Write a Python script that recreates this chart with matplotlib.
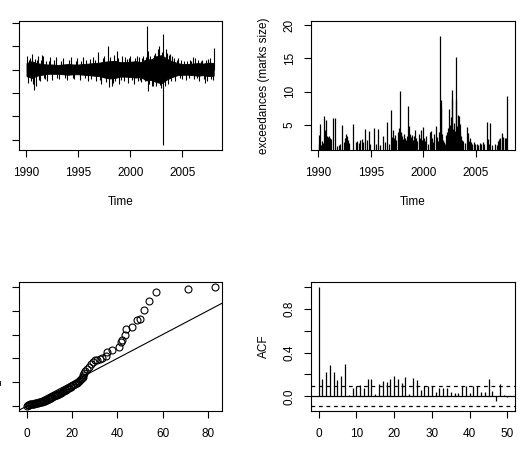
import numpy as np
import matplotlib
matplotlib.use("Agg")
import matplotlib.pyplot as plt

plt.rcParams['font.family'] = ['Liberation Sans', 'DejaVu Sans']
plt.rcParams['font.size'] = 8.5

# ---- daily series (top left): core band every half year + visible spikes
band_t = np.arange(1990.0, 2008.01, 0.5)
band_hi = [0.014, 0.018, 0.014, 0.012, 0.011, 0.011, 0.010, 0.011, 0.012, 0.011,
           0.011, 0.012, 0.013, 0.014, 0.015, 0.017, 0.018, 0.019, 0.016, 0.016,
           0.017, 0.018, 0.016, 0.022, 0.022, 0.029, 0.031, 0.023, 0.018, 0.014,
           0.012, 0.012, 0.013, 0.014, 0.013, 0.015, 0.014]
band_lo = [-0.014, -0.018, -0.013, -0.011, -0.009, -0.009, -0.009, -0.010, -0.011, -0.010,
           -0.010, -0.011, -0.012, -0.013, -0.014, -0.017, -0.019, -0.018, -0.015, -0.015,
           -0.016, -0.017, -0.016, -0.023, -0.022, -0.027, -0.029, -0.021, -0.016, -0.012,
           -0.011, -0.011, -0.012, -0.013, -0.012, -0.014, -0.013]
spike_t = [1990.05, 1990.10, 1990.20, 1990.30, 1990.40, 1990.50, 1990.60, 1990.70, 1990.80,
           1990.90, 1991.00, 1991.10, 1991.20, 1991.30, 1991.40, 1991.50, 1991.60, 1991.70,
           1991.80, 1991.90, 1992.00, 1992.15, 1992.30, 1992.50, 1992.65, 1992.80, 1992.95,
           1993.10, 1993.30, 1993.50, 1993.70, 1993.90, 1994.10, 1994.30, 1994.45, 1994.60,
           1994.75, 1994.90, 1995.10, 1995.25, 1995.40, 1995.60, 1995.75, 1995.90, 1996.10,
           1996.25, 1996.40, 1996.55, 1996.70, 1996.90, 1997.05, 1997.20, 1997.35, 1997.50,
           1997.65, 1997.80, 1997.90, 1998.05, 1998.20, 1998.30, 1998.40, 1998.55, 1998.70,
           1998.80, 1998.90, 1999.05, 1999.20, 1999.35, 1999.50, 1999.65, 1999.80, 1999.90,
           2000.00, 2000.15, 2000.30, 2000.45, 2000.60, 2000.70, 2000.80, 2000.90, 2001.00,
           2001.10, 2001.20, 2001.35, 2001.45, 2001.57, 2001.65, 2001.70, 2001.80, 2001.90,
           2002.05, 2002.20, 2002.30, 2002.40, 2002.50, 2002.60, 2002.70, 2002.80, 2002.90,
           2003.05, 2003.16, 2003.17, 2003.30, 2003.40, 2003.50, 2003.60, 2003.70, 2003.80,
           2003.90, 2004.00, 2004.15, 2004.30, 2004.45, 2004.60, 2004.75, 2004.90, 2005.00,
           2005.15, 2005.30, 2005.45, 2005.60, 2005.70, 2005.85, 2006.00, 2006.10, 2006.20,
           2006.35, 2006.50, 2006.60, 2006.75, 2006.90, 2007.05, 2007.20, 2007.30, 2007.40,
           2007.50, 2007.60, 2007.75, 2007.90, 2008.00]
spike_v = [0.030, -0.028, 0.020, 0.024, -0.025, 0.034, -0.030, -0.043, 0.022,
           -0.035, 0.021, 0.030, -0.022, -0.024, 0.020, 0.032, 0.030, -0.018,
           -0.020, 0.018, -0.025, 0.019, 0.028, -0.022, 0.020, 0.027, -0.017,
           -0.020, 0.019, 0.025, -0.018, -0.022, 0.020, 0.027, -0.018, -0.020,
           0.019, 0.025, -0.022, 0.018, 0.026, -0.019, 0.021, -0.025, 0.022,
           -0.020, 0.026, 0.021, -0.024, 0.038, -0.022, -0.030, 0.024, 0.030,
           -0.026, 0.051, -0.038, 0.026, -0.035, -0.028, 0.032, -0.024, 0.040,
           0.024, -0.030, -0.022, 0.030, -0.025, 0.028, 0.022, -0.028, 0.024,
           0.030, -0.022, -0.030, 0.024, 0.030, -0.024, 0.028, -0.022, -0.026,
           0.024, 0.030, -0.025, 0.026, 0.094, -0.046, 0.040, -0.030, 0.030,
           -0.034, -0.035, 0.032, 0.036, -0.036, 0.045, 0.051, -0.032, -0.040,
           0.038, 0.076, -0.162, -0.034, 0.045, 0.036, -0.030, 0.032, 0.034,
           -0.024, 0.030, 0.024, -0.025, 0.021, 0.025, -0.019, 0.020, -0.020,
           0.018, -0.022, 0.019, -0.017, 0.020, 0.018, 0.027, -0.020, 0.025,
           -0.018, 0.020, -0.025, 0.019, 0.020, -0.020, -0.028, 0.021, -0.024,
           0.022, 0.025, -0.020, -0.022, 0.046]

# ---- exceedances (top right)
ex_t = [1990.05, 1990.10, 1990.15, 1990.25, 1990.35, 1990.45, 1990.55, 1990.60, 1990.65,
        1990.70, 1990.75, 1990.80, 1990.85, 1990.90, 1990.95, 1991.00, 1991.05, 1991.10,
        1991.15, 1991.20, 1991.43, 1991.60, 1991.75, 1991.95, 1992.05, 1992.30, 1992.45,
        1992.55, 1992.65, 1992.70, 1992.75, 1992.85, 1992.95, 1993.30, 1993.55, 1993.70,
        1993.85, 1994.00, 1994.15, 1994.30, 1994.45, 1994.60, 1994.80, 1994.95, 1995.28,
        1995.45, 1995.70, 1995.85, 1996.20, 1996.35, 1996.50, 1996.70, 1996.93, 1997.05,
        1997.15, 1997.25, 1997.35, 1997.45, 1997.55, 1997.65, 1997.78, 1997.85, 1997.90,
        1997.95, 1998.05, 1998.15, 1998.25, 1998.35, 1998.45, 1998.58, 1998.65, 1998.75,
        1998.85, 1998.95, 1999.05, 1999.15, 1999.25, 1999.35, 1999.45, 1999.55, 1999.65,
        1999.75, 1999.85, 2000.00, 2000.10, 2000.20, 2000.30, 2000.45, 2000.60, 2000.74,
        2000.85, 2000.95, 2001.05, 2001.20, 2001.30, 2001.40, 2001.50, 2001.60, 2001.65,
        2001.72, 2001.80, 2001.90, 2002.00, 2002.10, 2002.20, 2002.30, 2002.40, 2002.49,
        2002.55, 2002.62, 2002.71, 2002.78, 2002.85, 2002.92, 2003.00, 2003.09, 2003.14,
        2003.22, 2003.30, 2003.35, 2003.42, 2003.48, 2003.55, 2003.62, 2003.70, 2003.80,
        2003.95, 2004.14, 2004.25, 2004.35, 2004.45, 2004.55, 2004.65, 2004.80, 2004.95,
        2005.10, 2005.25, 2005.40, 2005.55, 2005.70, 2005.80, 2006.05, 2006.15, 2006.25,
        2006.37, 2006.55, 2006.85, 2007.00, 2007.15, 2007.25, 2007.35, 2007.48, 2007.55,
        2007.65, 2007.75, 2007.85, 2007.92, 2008.00]
ex_v = [2.2, 3.5, 5.1, 2.0, 2.6, 2.3, 6.3, 3.9, 4.2,
        5.7, 3.0, 3.4, 2.7, 3.2, 2.5, 3.3, 2.6, 3.0,
        2.2, 2.9, 6.1, 6.0, 1.9, 2.0, 2.1, 5.0, 2.4,
        3.0, 3.7, 3.3, 2.7, 2.8, 2.3, 5.2, 2.4, 2.6,
        2.3, 2.7, 2.9, 2.5, 4.4, 2.8, 4.1, 2.2, 4.5,
        2.2, 4.4, 2.0, 3.4, 2.4, 5.4, 2.2, 7.2, 3.2,
        4.3, 3.0, 3.5, 2.8, 3.9, 4.5, 10.1, 3.8, 4.0,
        3.3, 2.9, 3.6, 3.1, 2.7, 3.4, 7.8, 4.9, 3.6,
        3.2, 3.5, 2.8, 3.3, 4.3, 3.0, 2.6, 3.6, 3.1,
        4.2, 2.7, 4.7, 3.1, 2.6, 3.4, 2.2, 3.9, 4.1,
        3.0, 2.5, 3.6, 4.8, 3.2, 2.6, 3.9, 18.4, 8.7,
        7.7, 3.6, 2.8, 2.5, 2.2, 3.5, 3.9, 4.6, 7.4,
        5.0, 6.2, 10.2, 8.9, 4.4, 5.3, 4.1, 15.2, 8.8,
        4.9, 6.5, 4.2, 6.4, 3.8, 5.2, 3.3, 2.8, 2.6,
        2.3, 4.7, 3.8, 2.6, 3.0, 2.4, 2.2, 2.4, 2.1,
        2.2, 2.0, 2.3, 2.1, 2.5, 2.2, 5.4, 2.9, 2.2,
        5.3, 2.0, 2.1, 2.0, 2.6, 2.9, 3.1, 3.8, 2.8,
        3.2, 3.0, 2.7, 3.1, 9.3]

# ---- QQ plot (bottom left)
qq_x = [0.3, 0.6, 0.9, 1.2, 1.5, 1.9, 2.3, 2.8, 3.2, 3.6, 4.1, 4.5, 5.0, 5.4, 5.9, 6.3,
        6.8, 7.2, 7.6, 8.1, 8.5, 8.9, 9.3, 9.8, 10.2, 10.6, 11.0, 11.4, 11.9, 12.3, 12.7,
        13.1, 13.6, 14.0, 14.5, 14.9, 15.4, 15.8, 16.2, 16.7, 17.1, 17.6, 18.0, 18.5, 18.9,
        19.4, 19.8, 20.3, 20.7, 21.2, 21.6, 22.1, 22.5, 23.0, 23.5, 23.9, 24.3, 24.7, 25.0,
        25.3, 25.8, 26.5, 27.5, 28.4, 29.4, 30.2, 31.2, 32.3, 33.4, 34.9, 35.6, 37.9, 40.9,
        41.5, 42.3, 43.4, 43.7, 46.4, 48.5, 50.1, 51.6, 53.8, 57.0, 71.2, 82.9]
qq_y = [0.02, 0.04, 0.06, 0.07, 0.08, 0.09, 0.10, 0.10, 0.11, 0.12, 0.13, 0.14, 0.15, 0.16,
        0.17, 0.18, 0.19, 0.20, 0.21, 0.23, 0.25, 0.27, 0.29, 0.31, 0.33, 0.35, 0.37, 0.39,
        0.41, 0.43, 0.45, 0.47, 0.49, 0.51, 0.53, 0.55, 0.57, 0.59, 0.62, 0.64, 0.67, 0.70,
        0.72, 0.75, 0.78, 0.81, 0.84, 0.87, 0.90, 0.93, 0.96, 0.99, 1.02, 1.05, 1.09, 1.13,
        1.18, 1.23, 1.32, 1.40, 1.46, 1.55, 1.65, 1.75, 1.86, 1.92, 1.95, 1.98, 2.02, 2.11,
        2.27, 2.37, 2.47, 2.70, 2.78, 2.99, 3.24, 3.30, 3.61, 3.66, 4.04, 4.42, 4.79, 4.90, 5.00]
qq_slope = 0.05

# ---- ACF of exceedance marks (bottom right)
acf_vals = [1.0, 0.157, 0.22, 0.285, 0.22, 0.145, 0.185, 0.297, 0.015, 0.08,
            0.09, 0.10, 0.08, 0.157, 0.16, 0.02, 0.11, 0.14, 0.13, 0.16,
            0.19, 0.16, 0.12, 0.18, 0.02, 0.17, 0.145, 0.06, 0.09, 0.09,
            0.09, 0.035, 0.075, 0.08, 0.075, 0.035, 0.03, 0.03, 0.095, 0.095,
            0.03, 0.09, 0.095, 0.035, 0.035, 0.155, 0.045, -0.045, 0.11, 0.015, -0.005]
acf_ci = 0.09

W, H = 525, 453
fig = plt.figure(figsize=(W / 100, H / 100), dpi=100)

def box(l, r, t, b):
    return [l / W, (H - b) / H, (r - l) / W, (b - t) / H]

def style(ax):
    for s in ax.spines.values():
        s.set_linewidth(0.8)
    ax.tick_params(direction='out', length=5, width=0.8, pad=7.5, labelsize=8.5)
    ax.tick_params(axis='y', labelrotation=90, pad=6)
    for lab in ax.get_yticklabels():
        lab.set_va('center')

ax1 = fig.add_axes(box(19, 222, 21, 150))
ax2 = fig.add_axes(box(311, 515, 21, 150))
ax3 = fig.add_axes(box(19, 222, 282, 411))
ax4 = fig.add_axes(box(311, 515, 282, 411))

# top left
ax1.fill_between(band_t, band_lo, band_hi, color='black', lw=0.6)
ax1.vlines(spike_t, 0, spike_v, color='black', lw=0.8)
ax1.set_xlim(1989.28, 2008.8)
ax1.set_ylim(-0.172, 0.104)
ax1.set_xticks([1990, 1995, 2000, 2005])
ax1.set_yticks([-0.15, -0.10, -0.05, 0.0, 0.05, 0.10])
ax1.set_yticklabels(['-0.15', '', '-0.05', '0.00', '0.05', '0.10'])
ax1.set_xlabel('Time', labelpad=12)
style(ax1)

# top right
ax2.vlines(ex_t, 0, ex_v, color='black', lw=0.9)
ax2.set_xlim(1989.3, 2008.75)
ax2.set_ylim(1.25, 20.6)
ax2.set_xticks([1990, 1995, 2000, 2005])
ax2.set_yticks([5, 10, 15, 20])
ax2.set_xlabel('Time', labelpad=12)
ax2.set_ylabel('exceedances (marks size)', labelpad=10)
style(ax2)

# bottom left
ax3.plot(qq_x, qq_y, 'o', mfc='none', mec='black', ms=5, mew=0.8)
ax3.axline((0, 0), slope=qq_slope, color='black', lw=0.8)
ax3.set_xlim(-3.32, 86.2)
ax3.set_ylim(-0.2, 5.2)
ax3.set_xticks([0, 20, 40, 60, 80])
ax3.set_yticks([0, 1, 2, 3, 4, 5])
ax3.set_yticklabels(['0', '1', '2', '3', '4', ''])
style(ax3)

# bottom right
lags = np.arange(len(acf_vals))
ax4.vlines(lags, 0, acf_vals, color='black', lw=0.9)
ax4.axhline(0, color='black', lw=0.9)
ax4.axhline(acf_ci, color='black', lw=0.9, ls=(0, (3, 3)))
ax4.axhline(-acf_ci, color='black', lw=0.9, ls=(0, (3, 3)))
ax4.set_xlim(-2, 52)
ax4.set_ylim(-0.134, 1.044)
ax4.set_xticks([0, 10, 20, 30, 40, 50])
ax4.set_yticks([0.0, 0.2, 0.4, 0.6, 0.8, 1.0])
ax4.set_yticklabels(['0.0', '', '0.4', '', '0.8', ''])
ax4.set_ylabel('ACF', labelpad=10)
style(ax4)

fig.savefig('out.png', dpi=100)
